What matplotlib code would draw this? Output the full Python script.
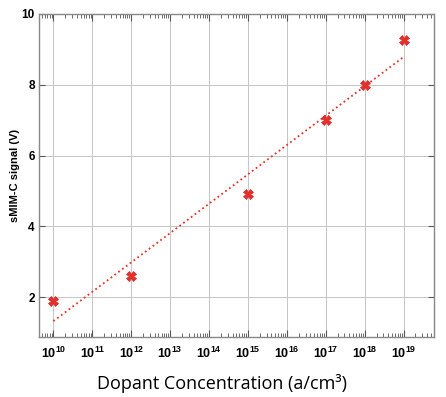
import numpy as np
import matplotlib.pyplot as plt
from matplotlib.ticker import LogLocator, NullFormatter, NullLocator

# data
concentration = [1e10, 1e12, 1e15, 1e17, 1e18, 1e19]
signal = [1.9, 2.6, 4.92, 7.0, 8.0, 9.25]
exponents = list(range(10, 20))
y_ticks = [2, 4, 6, 8, 10]

plt.rcParams['font.family'] = ['Liberation Sans', 'DejaVu Sans']
plt.rcParams['mathtext.fontset'] = 'custom'
plt.rcParams['mathtext.bf'] = 'Liberation Sans:bold'
plt.rcParams['mathtext.rm'] = 'Liberation Sans'

fig = plt.figure(figsize=(4.46, 3.97), dpi=100)
ax = fig.add_axes([0.0874, 0.151, 0.886, 0.814])

# linear fit of signal vs log10(concentration)
logx = np.log10(concentration)
slope, intercept = np.polyfit(logx, signal, 1)
fit_x = np.array([logx[0], logx[-1]])
ax.plot(10 ** fit_x, slope * fit_x + intercept, color='#e8302a', linestyle=':',
        linewidth=1.3, zorder=3)

ax.plot(concentration, signal, linestyle='none', marker='X', markersize=6.5,
        color='#e8302a', markeredgecolor='#d02020', markeredgewidth=0.5, zorder=4)

ax.set_xscale('log')
ax.set_xlim(10 ** 9.63, 10 ** 19.78)
ax.set_ylim(0.88, 10)

ax.set_xticks([10.0 ** e for e in exponents])
ax.set_xticklabels([r'$\mathbf{10^{%d}}$' % e for e in exponents], fontsize=9)
ax.xaxis.set_minor_locator(LogLocator(base=10, subs=np.arange(2, 10), numticks=100))
ax.xaxis.set_minor_formatter(NullFormatter())
ax.set_yticks(y_ticks)
ax.set_yticklabels([str(v) for v in y_ticks], fontweight='bold', fontsize=8.5)
ax.yaxis.set_minor_locator(NullLocator())

ax.tick_params(axis='both', which='both', direction='in', top=True, right=True,
               color='#555555')
ax.tick_params(axis='x', which='major', length=5, pad=6)
ax.tick_params(axis='x', which='minor', length=3)
ax.tick_params(axis='y', which='major', length=4, pad=3)

ax.grid(True, which='major', color='#c4c4c4', linewidth=0.7, linestyle='-')
ax.set_axisbelow(True)
for s in ax.spines.values():
    s.set_color('#888888')
    s.set_linewidth(1.0)

ax.set_ylabel('sMIM-C signal (V)', fontsize=8, fontweight='bold', labelpad=1)
fig.text(0.497, 0.035, 'Dopant Concentration (a/cm\u00b3)', ha='center', va='center',
         fontsize=13, family=['Open Sans', 'DejaVu Sans'])

fig.savefig('out.png', dpi=100)
